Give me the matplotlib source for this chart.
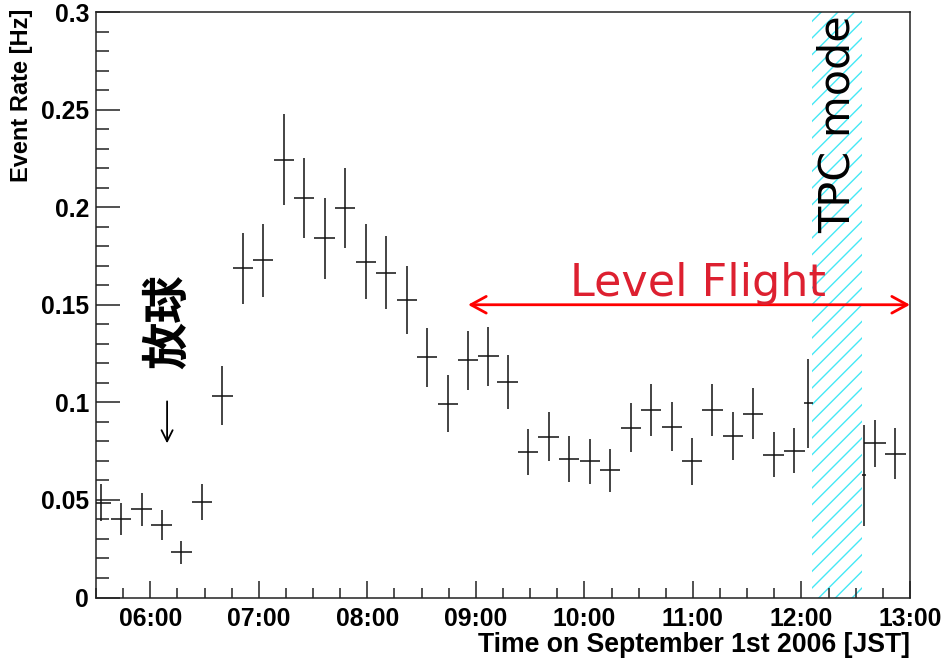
import matplotlib
matplotlib.use("Agg")
import matplotlib.pyplot as plt
import numpy as np

# ---- data (time in hours JST, event rate in Hz) ----
time_h = [5.543, 5.730, 5.921, 6.105, 6.286, 6.474, 6.664, 6.852, 7.039, 7.230,
          7.417, 7.607, 7.794, 7.985, 8.172, 8.363, 8.550, 8.741, 8.928, 9.115,
          9.293, 9.481, 9.671, 9.858, 10.049, 10.236, 10.427, 10.614, 10.805, 10.992,
          11.179, 11.369, 11.556, 11.744, 11.934, 12.063, 12.574, 12.675, 12.865]
time_halfwidth = [0.094] * 35 + [0.039, 0.018, 0.100, 0.097]
rate = [0.0485, 0.0403, 0.0451, 0.0370, 0.0232, 0.0488, 0.1034, 0.1688, 0.1727, 0.2244,
        0.2048, 0.1840, 0.1997, 0.1720, 0.1663, 0.1524, 0.1230, 0.0993, 0.1215, 0.1236,
        0.1106, 0.0744, 0.0824, 0.0712, 0.0698, 0.0652, 0.0870, 0.0961, 0.0876, 0.0698,
        0.0961, 0.0829, 0.0942, 0.0732, 0.0753, 0.0995, 0.0626, 0.0790, 0.0737]
rate_err = [0.0095, 0.0081, 0.0084, 0.0077, 0.0060, 0.0091, 0.0152, 0.0182, 0.0186, 0.0233,
            0.0205, 0.0206, 0.0205, 0.0192, 0.0187, 0.0174, 0.0152, 0.0146, 0.0150, 0.0150,
            0.0139, 0.0117, 0.0124, 0.0118, 0.0115, 0.0110, 0.0127, 0.0132, 0.0127, 0.0120,
            0.0133, 0.0124, 0.0130, 0.0117, 0.0117, 0.0229, 0.0258, 0.0120, 0.0130]

hour_ticks = [6, 7, 8, 9, 10, 11, 12, 13]
hour_labels = ["06:00", "07:00", "08:00", "09:00", "10:00", "11:00", "12:00", "13:00"]
y_ticks = [0, 0.05, 0.1, 0.15, 0.2, 0.25, 0.3]
y_labels = ["0", "0.05", "0.1", "0.15", "0.2", "0.25", "0.3"]

tpc_start, tpc_end = 12.10, 12.555
level_flight_start, level_flight_end, level_flight_y = 8.928, 13.0, 0.150
launch_time = 6.155

# ---- figure ----
W, H = 945, 662
fig = plt.figure(figsize=(W / 100, H / 100), dpi=100)
ax = fig.add_axes([96 / W, 1 - 597.5 / H, (910 - 96) / W, (597.5 - 12) / H])
ax.set_xlim(5.5, 13.0)
ax.set_ylim(0, 0.3)

# TPC mode hatched band
ax.axvspan(tpc_start, tpc_end, facecolor="none", edgecolor="#45e8f5",
           linewidth=0, hatch="//", zorder=1)

# data with error bars
ax.errorbar(time_h, rate, yerr=rate_err, xerr=time_halfwidth, fmt="none",
            ecolor="#111111", elinewidth=1.1, capsize=0, zorder=3)

# axes styling
for sp in ax.spines.values():
    sp.set_linewidth(1.1)
    sp.set_color("#222222")
ax.set_xticks(hour_ticks)
ax.set_xticklabels(hour_labels)
ax.set_xticks(np.arange(5.5, 13.0001, 0.25), minor=True)
ax.set_yticks(y_ticks)
ax.set_yticklabels(y_labels)
ax.set_yticks(np.arange(0, 0.30001, 0.01), minor=True)
ax.tick_params(axis="both", which="both", direction="in", top=False, right=False,
               width=1.1, color="#222222")
ax.tick_params(axis="y", which="major", length=17, pad=5)
ax.tick_params(axis="y", which="minor", length=9.5)
ax.tick_params(axis="x", which="major", length=12, pad=6.5)
ax.tick_params(axis="x", which="minor", length=7)
for lab in ax.get_xticklabels() + ax.get_yticklabels():
    lab.set_fontfamily("Liberation Sans")
    lab.set_fontweight("bold")
    lab.set_fontsize(17.8)

# axis titles (ROOT style: right/top aligned)
fig.text(22 / W, 1 - 9 / H, "Event Rate [Hz]", rotation=90, ha="center", va="top",
         fontfamily="Liberation Sans", fontweight="bold", fontsize=17)
fig.text(910 / W, 1 - 645 / H, "Time on September 1st 2006 [JST]", ha="right",
         va="center", fontfamily="Liberation Sans", fontweight="bold", fontsize=19.2)

# annotations
ax.text(launch_time + 0.01, 0.1412, "放球", rotation=90, ha="center", va="center",
        fontfamily=["Noto Sans CJK JP", "DejaVu Sans"], fontweight="bold", fontsize=34,
        color="black")
ax.annotate("", xy=(launch_time, 0.0790), xytext=(launch_time, 0.1005),
            arrowprops=dict(arrowstyle="->,head_length=0.8,head_width=0.4",
                            color="black", lw=1.3, shrinkA=0, shrinkB=0))

ax.annotate("", xy=(level_flight_end, level_flight_y),
            xytext=(level_flight_start, level_flight_y),
            arrowprops=dict(arrowstyle="<->,head_length=1.1,head_width=0.6",
                            color="#ff0000", lw=2.0, shrinkA=0, shrinkB=0),
            annotation_clip=False)
ax.text(9.867, 0.1546, "Level Flight", ha="left", va="baseline",
        fontfamily="DejaVu Sans", fontsize=32, color="#dd2030", zorder=4)

ax.text(12.337, 0.2985, "TPC mode", rotation=90, ha="center", va="top",
        fontfamily="DejaVu Sans", fontsize=31, color="black", zorder=4)

fig.savefig("out.png", dpi=100, facecolor="white")
